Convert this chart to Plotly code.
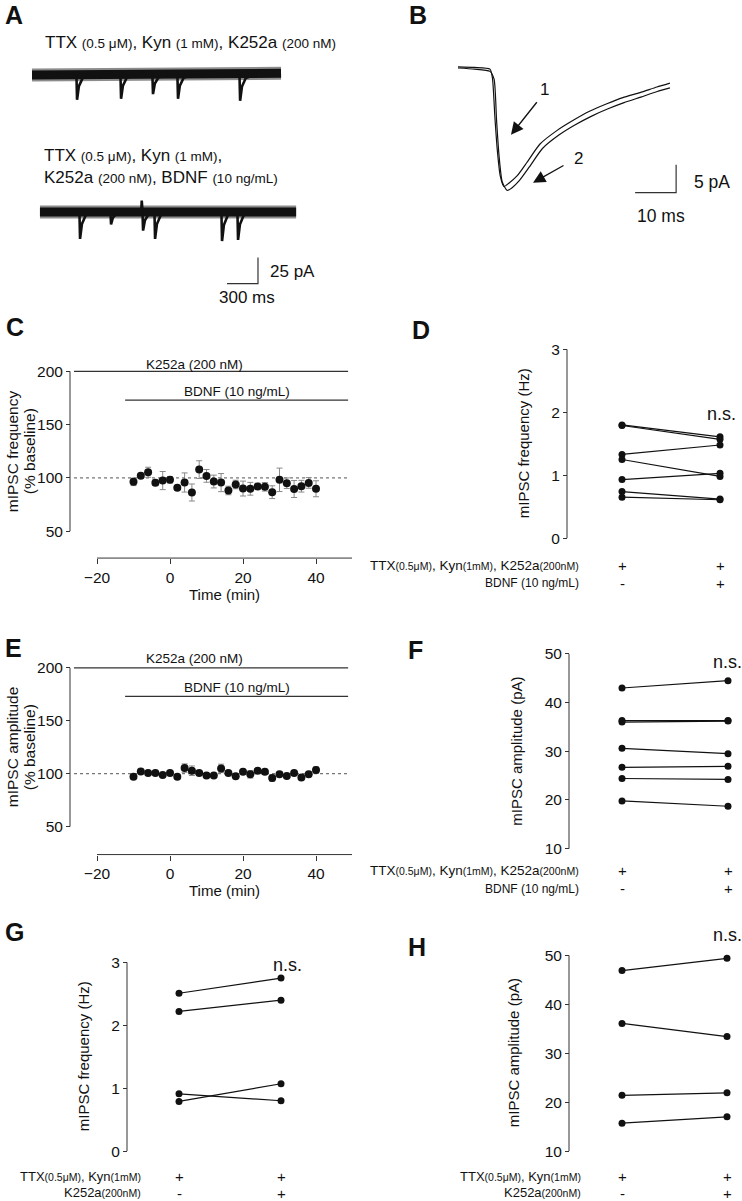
import plotly.graph_objects as go

W, H = 742, 1201
FONT = "Liberation Sans, Arial, Helvetica, sans-serif"
INK = "#111111"
AXC = "#333333"
ERRC = "#8a8a8a"

# ---------------- data ----------------
# A: representative recordings (events: time in ms, amplitude in pA)
A1_span_ms = [0, 2410]
A1_base_pA = [0, 1.5]
A1_event_ms = [436, 862, 1171, 1413, 2014]
A1_event_pA = [24, 23, 18.5, 23, 25]
A2_span_ms = [77, 2556]
A2_base_pA = [-132, -132]
A2_event_ms = [465, 765, 1075, 1191, 1839, 1994]
A2_event_pA = [26, 12, 18, 26, 28, 27]
A2_up_ms = [1062]
A2_up_pA = [11]
EVENT_DT_ms = [-6, 0, 18, 55, 140]
EVENT_FRAC = [0, -1, -0.45, -0.12, 0]
A_scale_ms = 300
A_scale_pA = 25

# B: averaged mIPSCs
B1_ms = [0, 4, 7.8, 8.4, 9.0, 9.6, 10.3, 11.2, 12.4, 14.4, 16.8, 20.0, 24.1, 28.0, 32.2, 36.3, 40.2, 44.4, 48.5, 51.7]
B1_pA = [0, -0.1, -0.4, -2.0, -9.0, -15.0, -19.5, -21.4, -20.8, -19.5, -17.1, -13.8, -11.4, -9.6, -7.9, -6.6, -5.5, -4.6, -3.6, -2.9]
B2_ms = [0, 4, 7.8, 8.8, 9.4, 10.0, 10.8, 12.0, 13.2, 15.0, 17.4, 20.6, 24.6, 28.5, 32.6, 36.6, 40.5, 44.6, 48.6, 51.7]
B2_pA = [-0.2, -0.4, -0.8, -2.2, -9.5, -15.8, -20.6, -22.1, -21.6, -20.3, -17.9, -14.6, -12.2, -10.4, -8.8, -7.5, -6.4, -5.4, -4.4, -3.75]
B_scale_ms = 10
B_scale_pA = 5

# C / E: time course (% baseline)
time_min = [-10, -8, -6, -4, -2, 0, 2, 4, 6, 8, 10, 12, 14, 16, 18, 20, 22, 24, 26, 28, 30, 32, 34, 36, 38, 40]
freq_pct = [96.3, 102.0, 105.3, 95.5, 97.5, 98.2, 90.8, 95.7, 86.3, 107.8, 101.9, 96.6, 95.6, 88.2,
            93.8, 90.0, 89.8, 92.0, 91.6, 86.6, 98.2, 95.0, 89.6, 92.2, 95.3, 89.8]
freq_sem = [3.5, 2.3, 4.7, 2.7, 8.5, 3, 2, 9, 8, 8.3, 6, 6, 8.5, 4, 4, 7, 6, 3, 4, 6, 11, 5, 8, 5.5, 5, 7.5]
amp_pct = [97.2, 102.2, 100.6, 100.6, 98.8, 100.6, 97.2, 105.3, 102.8, 100.6, 98.4, 98.4, 105.0, 100.6,
           97.5, 101.9, 99.4, 102.8, 101.9, 95.9, 99.4, 97.8, 100.6, 96.3, 99.4, 103.4]
amp_sem = [1, 1, 1, 1, 1, 1, 2, 4, 4.5, 1, 1, 1, 4, 1, 1, 1.5, 3.5, 1, 1, 3, 1, 1, 1, 1, 1, 3]
K252a_bar_min = [-26.3, 48.8]
BDNF_bar_min = [-12.3, 48.8]
K252a_level = 200
BDNF_level = 173
baseline_pct = 100
time_ticks = [-20, 0, 20, 40]
pct_ticks = [50, 100, 150, 200]

# D, F, G, H: paired cells (before, after)
pair_x = [0, 1]
D_before = [1.80, 1.79, 1.33, 1.25, 0.93, 0.74, 0.65]
D_after = [1.61, 1.57, 1.48, 0.98, 1.03, 0.62, 0.61]
F_before = [43.0, 36.3, 36.0, 30.6, 26.7, 24.4, 19.8]
F_after = [44.5, 36.3, 36.2, 29.5, 26.9, 24.2, 18.7]
G_before = [2.51, 2.22, 0.79, 0.91]
G_after = [2.75, 2.40, 1.07, 0.80]
H_before = [46.9, 36.1, 21.4, 15.7]
H_after = [49.4, 33.4, 21.9, 17.0]
hz_ticks = [0, 1, 2, 3]
pa_ticks = [10, 20, 30, 40, 50]

# ---------------- helpers ----------------
def pxx(p):
    return p / W


def pxy(p):
    return 1 - p / H


def rng(pa, va, pb, vb, d0, d1):
    k = (vb - va) / (pb - pa)
    return [va + (d0 - pa) * k, va + (d1 - pa) * k]


layout_axes = {}
shapes = []
annotations = []
TICKF = dict(size=15.5, family=FONT, color=INK)


def panel(n, xdom, xmap, ydom, ymap, ytick=None, yax_px=None, yline=None,
          xtick=None, xax_px=None, xline=None):
    xs = "xaxis" if n == 1 else f"xaxis{n}"
    ys = "yaxis" if n == 1 else f"yaxis{n}"
    xa = dict(domain=[pxx(xdom[0]), pxx(xdom[1])], range=rng(*xmap, xdom[0], xdom[1]),
              showgrid=False, zeroline=False, showline=False, fixedrange=True)
    ya = dict(domain=[pxy(ydom[1]), pxy(ydom[0])], range=rng(*ymap, ydom[1], ydom[0]),
              showgrid=False, zeroline=False, showline=False, fixedrange=True)
    if xtick is None:
        xa.update(visible=False)
    else:
        xa.update(anchor="free", position=pxy(xax_px), tickvals=xtick, ticks="outside",
                  ticklen=5, tickwidth=1, tickcolor=AXC, tickfont=TICKF)
        shapes.append(dict(type="line", xref="paper", yref="paper", x0=pxx(xline[0]), x1=pxx(xline[1]),
                           y0=pxy(xax_px), y1=pxy(xax_px), line=dict(color=AXC, width=1)))
    if ytick is None:
        ya.update(visible=False)
    else:
        ya.update(anchor="free", position=pxx(yax_px), tickvals=ytick, ticks="outside",
                  ticklen=4, tickwidth=1, tickcolor=AXC, tickfont=TICKF)
        shapes.append(dict(type="line", xref="paper", yref="paper", x0=pxx(yax_px), x1=pxx(yax_px),
                           y0=pxy(yline[0]), y1=pxy(yline[1]), line=dict(color=AXC, width=1)))
    layout_axes[xs] = xa
    layout_axes[ys] = ya
    return ("x" if n == 1 else f"x{n}"), ("y" if n == 1 else f"y{n}")


def ann(text, x, y, size=14, xanchor="center", yanchor="middle", bold=False, angle=0, xref=None):
    t = f"<b>{text}</b>" if bold else text
    d = dict(text=t, x=(x if xref else pxx(x)), y=pxy(y), xref=(xref or "paper"), yref="paper",
             showarrow=False, font=dict(size=size, family=FONT, color=INK),
             xanchor=xanchor, yanchor=yanchor, textangle=angle)
    annotations.append(d)


fig = go.Figure()

# ---------------- A ----------------
xa, ya = panel(1, (25, 312), (32, 0, 63, 300), (50, 300), (74, 0, 100, -25))


def band_and_events(span, base, ev_t, ev_a, ups_t=(), ups_a=()):
    fig.add_trace(go.Scatter(x=span, y=base, mode="lines", xaxis=xa, yaxis=ya,
                             line=dict(color="rgba(0,0,0,0.45)", width=13), hoverinfo="skip"))
    fig.add_trace(go.Scatter(x=span, y=base, mode="lines", xaxis=xa, yaxis=ya,
                             line=dict(color=INK, width=9), hoverinfo="skip"))
    ex, ey = [], []
    b = base[0]
    for t, a in zip(ev_t, ev_a):
        for dt, fr in zip(EVENT_DT_ms, EVENT_FRAC):
            ex.append(t + dt)
            ey.append(b + fr * a)
        ex.append(None)
        ey.append(None)
    for t, a in zip(ups_t, ups_a):
        ex += [t - 5, t, t + 8, None]
        ey += [b, b + a, b, None]
    fig.add_trace(go.Scatter(x=ex, y=ey, mode="lines", xaxis=xa, yaxis=ya,
                             line=dict(color=INK, width=2.6), hoverinfo="skip"))


band_and_events(A1_span_ms, A1_base_pA, A1_event_ms, A1_event_pA)
band_and_events(A2_span_ms, A2_base_pA, A2_event_ms, A2_event_pA, A2_up_ms, A2_up_pA)
# scale bar A
a_corner_t, a_corner_i = 2187, -201
fig.add_trace(go.Scatter(x=[a_corner_t - A_scale_ms, a_corner_t, a_corner_t],
                         y=[a_corner_i, a_corner_i, a_corner_i + A_scale_pA],
                         mode="lines", xaxis=xa, yaxis=ya, line=dict(color=AXC, width=1.2), hoverinfo="skip"))
ann("25 pA", 268, 271, size=17, xanchor="left")
ann("300 ms", 247, 297, size=17)
S = "font-size:13.5px"
ann(f"TTX <span style='{S}'>(0.5 μM)</span>, Kyn <span style='{S}'>(1 mM)</span>, K252a <span style='{S}'>(200 nM)</span>",
    43, 42, size=17, xanchor="left")
ann(f"TTX <span style='{S}'>(0.5 μM)</span>, Kyn <span style='{S}'>(1 mM)</span>,",
    42, 155, size=17, xanchor="left")
ann(f"K252a <span style='{S}'>(200 nM)</span>, BDNF <span style='{S}'>(10 ng/mL)</span>",
    42, 177, size=17, xanchor="left")

# ---------------- B ----------------
xb, yb = panel(2, (450, 700), (458, 0, 499, 10), (50, 230), (66, 0, 94, -5))
for tt, ii in ((B1_ms, B1_pA), (B2_ms, B2_pA)):
    fig.add_trace(go.Scatter(x=tt, y=ii, mode="lines", xaxis=xb, yaxis=yb,
                             line=dict(color=INK, width=1.2, shape="spline", smoothing=0.6), hoverinfo="skip"))
b_corner_t, b_corner_i = 53.2, -22.5
fig.add_trace(go.Scatter(x=[b_corner_t - B_scale_ms, b_corner_t, b_corner_t],
                         y=[b_corner_i, b_corner_i, b_corner_i + B_scale_pA],
                         mode="lines", xaxis=xb, yaxis=yb, line=dict(color=AXC, width=1.2), hoverinfo="skip"))
ann("5 pA", 692, 181, size=17.5, xanchor="left")
ann("10 ms", 661, 215, size=17.5)
ann("1", 544, 89, size=17)
ann("2", 578, 158, size=17)
for hx, hy, ax_, ay_ in ((511, 134, 27, -34), (533, 182, 32, -18)):
    annotations.append(dict(x=pxx(hx), y=pxy(hy), xref="paper", yref="paper", text="",
                            showarrow=True, ax=ax_, ay=ay_, arrowhead=2, arrowsize=1.9,
                            arrowwidth=1.3, arrowcolor=INK, standoff=0))


# ---------------- C and E ----------------
def time_course(n, ytop_px, y100_px, yaxis_bottom_px, xaxis_px, vals, sems, ylabel, lbl_k, lbl_b):
    ydom = (ytop_px - 22, xaxis_px + 8)
    xx, yy = panel(n, (60, 362), (170, 0, 243, 20), ydom, (ytop_px, 200, y100_px, 100),
                   ytick=pct_ticks, yax_px=70, yline=(ytop_px, yaxis_bottom_px),
                   xtick=time_ticks, xax_px=xaxis_px, xline=(97, 352))
    fig.add_trace(go.Scatter(x=[K252a_bar_min[0], K252a_bar_min[1]], y=[K252a_level] * 2, mode="lines",
                             xaxis=xx, yaxis=yy, line=dict(color=AXC, width=1.3), hoverinfo="skip"))
    fig.add_trace(go.Scatter(x=[BDNF_bar_min[0], BDNF_bar_min[1]], y=[BDNF_level] * 2, mode="lines",
                             xaxis=xx, yaxis=yy, line=dict(color=AXC, width=1.3), hoverinfo="skip"))
    fig.add_trace(go.Scatter(x=[K252a_bar_min[0], K252a_bar_min[1]], y=[baseline_pct] * 2, mode="lines",
                             xaxis=xx, yaxis=yy, line=dict(color="#555555", width=1, dash="dot"), hoverinfo="skip"))
    fig.add_trace(go.Scatter(x=time_min, y=vals, mode="markers", xaxis=xx, yaxis=yy,
                             marker=dict(color=INK, size=8),
                             error_y=dict(type="data", array=sems, color=ERRC, thickness=1, width=3)))
    mid = (ytop_px + yaxis_bottom_px) / 2
    ann(ylabel[0], 12, mid, size=15.5, angle=-90)
    ann(ylabel[1], 29, mid, size=15.5, angle=-90)
    ann("K252a (200 nM)", 194, lbl_k, size=13.5)
    ann("BDNF (10 ng/mL)", 237, lbl_b, size=13.5)
    ann("Time (min)", 224, xaxis_px + 36, size=15)


time_course(3, 371, 477.7, 531, 558, freq_pct, freq_sem, ("mIPSC frequency", "(% baseline)"), 364, 391)
time_course(5, 668, 774, 827, 855, amp_pct, amp_sem, ("mIPSC amplitude", "(% baseline)"), 659, 688)


# ---------------- paired panels ----------------
def paired(n, xdom, xmap, ydom, ymap, ticks, yax_px, yline, before, after, ylabel, ylab_xy, ns_xy):
    xx, yy = panel(n, xdom, xmap, ydom, ymap, ytick=ticks, yax_px=yax_px, yline=yline)
    px_, py_ = [], []
    for b, a in zip(before, after):
        px_ += [pair_x[0], pair_x[1], None]
        py_ += [b, a, None]
    fig.add_trace(go.Scatter(x=px_, y=py_, mode="lines+markers", xaxis=xx, yaxis=yy,
                             line=dict(color=INK, width=1.2), marker=dict(color=INK, size=7)))
    ann(ylabel, ylab_xy[0], ylab_xy[1], size=15, angle=-90)
    ann("n.s.", ns_xy[0], ns_xy[1], size=18)
    return xx


def small(t, px):
    return f"<span style='font-size:{px}px'>{t}</span>"


row_drugs = f"TTX{small('(0.5μM)', 10.5)}, Kyn{small('(1mM)', 10.5)}, K252a{small('(200nM)', 10.5)}"
row_ttx = f"TTX{small('(0.5μM)', 10.5)}, Kyn{small('(1mM)', 10.5)}"
row_k = f"K252a{small('(200nM)', 10.5)}"


def signs(xref, y1, y2):
    ann("+", pair_x[0], y1, size=15, xref=xref)
    ann("+", pair_x[1], y1, size=15, xref=xref)
    ann("-", pair_x[0], y2, size=15, xref=xref)
    ann("+", pair_x[1], y2, size=15, xref=xref)


xd = paired(4, (575, 742), (622, 0, 720, 1), (340, 545), (538, 0, 349, 3), hz_ticks, 567, (349, 538),
            D_before, D_after, "mIPSC frequency (Hz)", (523, 443), (721, 414))
ann(row_drugs, 581, 565, size=13.5, xanchor="right")
ann("BDNF (10 ng/mL)", 581, 583, size=12, xanchor="right")
signs(xd, 565, 583)

xf = paired(6, (575, 742), (622, 0, 728, 1), (640, 856), (654, 50, 849, 10), pa_ticks, 569, (654, 849),
            F_before, F_after, "mIPSC amplitude (pA)", (517, 752), (727, 662))
ann(row_drugs, 581, 871, size=13.5, xanchor="right")
ann("BDNF (10 ng/mL)", 581, 889, size=12, xanchor="right")
signs(xf, 871, 889)

xg = paired(7, (135, 360), (179, 0, 281, 1), (955, 1160), (1152, 0, 963, 3), hz_ticks, 127, (963, 1152),
            G_before, G_after, "mIPSC frequency (Hz)", (83, 1057), (287, 966))
ann(row_ttx, 143, 1177, size=13, xanchor="right")
ann(row_k, 143, 1193, size=13, xanchor="right")
signs(xg, 1177, 1194)

xh = paired(8, (575, 742), (622, 0, 727, 1), (940, 1160), (956, 50, 1152, 10), pa_ticks, 569, (956, 1152),
            H_before, H_after, "mIPSC amplitude (pA)", (513, 1054), (727, 936))
ann(row_ttx, 583, 1177, size=13, xanchor="right")
ann(row_k, 583, 1193, size=13, xanchor="right")
signs(xh, 1177, 1194)

# ---------------- panel letters ----------------
for letter, lx, ly in (("A", 14, 14), ("B", 418, 14), ("C", 15, 327), ("D", 421, 330),
                       ("E", 13, 648), ("F", 415, 650), ("G", 15, 933), ("H", 417, 948)):
    ann(letter, lx, ly, size=25, bold=True)

fig.update_layout(width=W, height=H, margin=dict(l=0, r=0, t=0, b=0),
                  paper_bgcolor="white", plot_bgcolor="white", showlegend=False,
                  font=dict(family=FONT, color=INK), shapes=shapes, annotations=annotations,
                  **layout_axes)
fig.write_html("out.html", config={"displayModeBar": False, "staticPlot": True},
               post_script="document.body.style.margin='0px';")
